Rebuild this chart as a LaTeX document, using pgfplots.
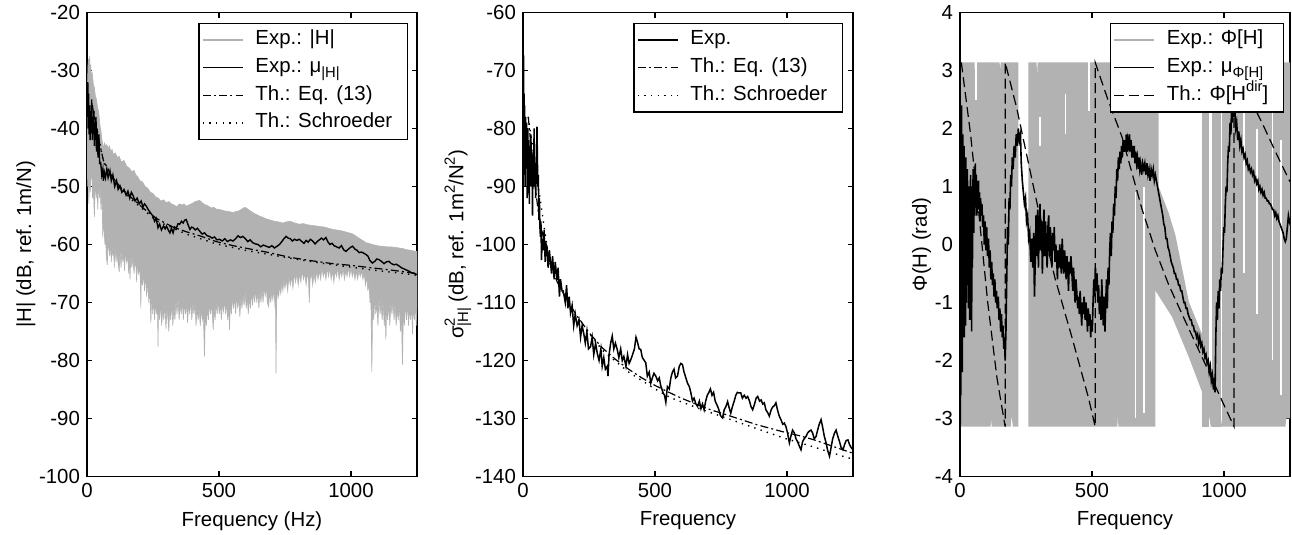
\documentclass[border=0pt]{standalone}
\usepackage{fontspec}
\setmainfont{Liberation Sans}
\usepackage{pgfplots}
\pgfplotsset{compat=1.18}
\definecolor{mygray}{gray}{0.70}
\newcommand{\sbx}[1]{\raisebox{-0.45ex}{\fontsize{7.4}{8}\selectfont #1}}
\newcommand{\spx}[1]{\raisebox{0.8ex}{\fontsize{7.4}{8}\selectfont #1}}
\tikzset{thdash/.style={black, line width=0.6pt, dash pattern=on 5pt off 2.5pt},
         thdd/.style={black, line width=0.6pt, dash pattern=on 4pt off 1.6pt on 1pt off 1.6pt},
         thdot/.style={black, line width=0.7pt, dash pattern=on 0.7pt off 2.6pt}}
\pgfplotsset{
  myaxis/.style={
    scale only axis, width=165pt, height=232pt,
    xmin=0, xmax=1250, xtick={0,500,1000},
    axis line style={line width=0.8pt},
    every tick/.style={black, line width=0.7pt},
    major tick length=2.5pt,
    tick label style={font=\fontsize{10.2}{12}\selectfont},
    label style={font=\fontsize{10.2}{12}\selectfont},
    ylabel style={yshift=-5pt},
    /pgf/number format/assume math mode=true,
    /pgf/number format/1000 sep={},
    legend cell align=left,
    legend style={at={(1,1)}, anchor=north east, draw=black, line width=0.7pt, fill=white,
      inner sep=1.5pt, column sep=4pt, font=\fontsize{10.2}{12}\selectfont,
      nodes={text height=7.3pt, text depth=2.5pt, inner sep=2pt}},
    legend image code/.code={\draw[#1] (0pt,0pt) -- (20pt,0pt);},
  }
}
\begin{document}
\begin{tikzpicture}
\useasboundingbox (0,0) rectangle (646pt,267.5pt);
% ---------------- Panel 1 ----------------
\begin{axis}[myaxis, at={(43.5pt,29.25pt)}, anchor=south west,
  ymin=-100, ymax=-20, ytick={-100,-90,...,-20},
  xlabel={Frequency (Hz)}, ylabel={|H| (dB, ref. 1m/N)},
  legend style={xshift=-4.5pt, yshift=-5pt}]
\addplot[fill=mygray, draw=mygray, line width=0.3pt, forget plot] coordinates {
(0,-46)(3,-50)(5,-47)(7,-53)(9,-48)(12,-51)(14,-49)(18,-47)(21,-52)(24,-50)(28,-55.3)(31,-49)(35,-52)(38,-50)(41,-54)(44,-48)(47,-52)(50,-50)(53,-54)(56,-50)(60,-58.8)(62,-54)
(64,-57)(68,-60)(70,-57)(73,-62)(77,-63.5)(80,-58)(83,-61)(86,-62)(89,-59)(92,-63)(95,-60)(98,-62)(101,-60)(103,-64)(106,-60)(110,-63)(113,-61)(117,-63)(122,-64.7)(125,-61)(129,-64)(132,-61)(136,-63)(139,-61)(142,-64.5)(146,-61)(150,-63)(154,-62)(158,-65)(161,-62)(163,-66)(166,-62)(170,-64)(174,-62)(178,-65)(182,-63)(186,-64)(188,-66.5)(191,-63)(195,-65)(199,-64)(202,-66)(204,-71)(206,-65)(210,-67)(214,-65)(218,-68)(222,-65)(226,-69)(230,-66)(234,-70)(237,-67)(242,-73.5)(245,-68)
(249,-72)(252,-69)(256,-73)(260,-70)(264,-72)(267,-70)(269,-77.6)(271,-70)(275,-73)(279,-70)(283,-74)(287,-71)(291,-73)(295,-70)(299,-74.5)(303,-71)(307,-73)(310,-75)(313,-71)(317,-73)(321,-70)(325,-74)(329,-71)(333,-73)(337,-69.5)(341,-72)(345,-69)(349,-73)(353,-70)(357,-72)(361,-69.5)(365,-73)(369,-70)(373,-72)(377,-70)(381,-73.5)(385,-70)(389,-72)(393,-69.5)(397,-73)(401,-70)(405,-72)(409,-70)(413,-74)(417,-71)(421,-73)(425,-71)(429,-74)(433,-71)(437,-73)(441,-72)(445,-79.3)(448,-72)(452,-74)(456,-71)(460,-73)(464,-70)(468,-72)(472,-70)(476,-73)(478,-74.7)(481,-71)(485,-73)(489,-70)(493,-72)(497,-69.5)(501,-72)(505,-70)(509,-73)(513,-70)(517,-71.5)(521,-69.5)(525,-72)(529,-70)(533,-73)(537,-71)(540,-74.7)(543,-70)(547,-72)(551,-69)(555,-71)(559,-69)(563,-72)(567,-68.5)(571,-71)(575,-69)(579,-72.5)(583,-69)(587,-71)(591,-68.5)(595,-70.5)(599,-68)(603,-71)(607,-69)(611,-72)(615,-69)(619,-71)(623,-68)(627,-70.5)(631,-68)(635,-70)(639,-67.5)(643,-70)(647,-68)(651,-71)(655,-68)(659,-70)(663,-67.5)(667,-70)(671,-67)(675,-69)(679,-67)(683,-70)(688,-70.7)(692,-68)(696,-70)(700,-68)(704,-69.5)(708,-67.5)(712,-70.5)(714,-70)(716,-82.2)(718,-70)(722,-68)(726,-69)(730,-67)(734,-68.5)(738,-66.5)
(742,-68)(746,-66)(750,-67.5)(755,-66)(760,-68)(765,-65.5)(770,-67)(775,-65.5)(780,-67.5)(785,-65)(790,-66.5)(795,-65)(800,-67)(805,-65)(810,-66.5)(815,-64.5)(820,-66)(825,-65)(830,-67)(835,-65)(839,-66)(842,-70)(845,-66)(850,-65)(855,-67)(860,-65)(865,-66.5)(870,-64.5)(875,-66)(880,-64.5)(885,-66)(890,-64)(895,-65.5)(900,-64.5)(905,-66)(910,-64)(915,-65.5)(920,-64)(925,-66)(930,-64.5)(935,-66.5)(940,-64.5)(945,-65.5)(950,-64)(955,-66)(960,-64.5)(965,-65.5)(970,-64)(975,-66)(980,-64.5)(985,-65.5)(990,-64)(995,-65.5)(1000,-64)(1005,-65.5)(1010,-64.5)(1015,-66)(1020,-64.5)(1025,-66)(1030,-64.5)(1035,-65.5)(1040,-64.5)(1045,-66)(1050,-65)(1055,-67)(1060,-65.5)
(1064,-68)(1068,-66.5)(1072,-70)(1075,-68)(1079,-82)(1082,-70)(1086,-73)(1090,-69)(1094,-72)(1098,-70)(1102,-74)(1106,-69)(1110,-72)(1114,-70)(1118,-73)(1122,-70)(1126,-74)(1129,-71)(1132,-76.4)(1135,-71)(1139,-73)(1143,-70)(1147,-74)(1151,-70)(1155,-72)(1159,-69.5)(1163,-73)(1167,-70)(1171,-74)(1175,-71)(1179,-73)(1183,-70)(1187,-75)(1191,-72)(1195,-80.7)(1198,-72)(1202,-74)(1206,-70)(1210,-73)(1214,-70)(1218,-74)(1222,-71)(1226,-73)(1230,-70)(1233,-75.5)(1236,-70)(1240,-73)(1244,-70)(1247,-74)(1250,-71)
(1250,-61.2)(1245,-61.2)(1228,-61)(1210,-60.9)(1196,-60.7)(1182,-60.6)(1166,-60.5)(1150,-60.4)(1135,-60.4)(1119,-60.3)(1110,-60.3)(1100,-60.2)(1090,-60.1)(1080,-60)(1068,-59.8)(1056,-59.7)(1048,-59.4)(1040,-59.2)(1030,-58.9)(1020,-58.6)(1007,-58.2)(993,-58)(977,-57.8)(960,-57.6)(945,-57.5)(930,-57.4)(915,-57.2)(900,-57)(883,-56.9)(867,-56.8)(850,-56.7)(835,-56.6)(820,-56.4)(804,-56.5)(787,-56.3)(770,-56)(755,-56.1)(741,-56.3)(725,-56.1)(710,-56)(695,-55.8)(680,-55.6)(665,-55.3)(653,-55.1)(645,-54.9)(635,-54.7)(625,-54.4)(615,-54.1)(609,-53.9)(603,-53.7)(597,-53.6)(590,-53.8)(583,-54)(575,-54.2)(565,-54.3)(553,-54.5)(535,-54.3)(520,-54.2)(505,-54)(490,-53.9)(480,-53.6)(470,-53.7)(457,-53.3)(445,-53.1)(436,-52.8)(427,-52.4)(418,-52.5)(410,-52.6)(403,-52.8)(395,-53)(385,-53.2)(376,-53.4)(368,-53)(360,-53.2)(350,-53)(340,-53.5)(330,-53.2)(320,-53)(310,-52.6)(300,-52.8)(290,-52.3)(280,-52.5)(270,-52)(260,-51.8)(250,-51.2)(240,-51)(230,-50.3)(220,-50)(210,-49.2)(200,-49)(192,-48.3)(185,-48)(178,-47.2)(170,-47.5)(160,-46.8)(150,-46.5)(140,-45.5)(130,-45.8)(122,-44.8)(115,-45)(107,-44.2)(100,-44.5)(95,-43.6)(90,-44)(85,-43)(80,-43.5)(75,-42.8)(70,-43)(66,-42.5)(62,-43.5)(57,-42)(53,-40.5)(49,-39.4)(44,-37)(40,-36.5)(36,-35)(32,-34.5)(28,-33)(24,-32.4)(20,-30.5)(17,-31)(14,-29)(12,-30)(10,-27.5)(8,-30)(6,-28)(4,-29)(2,-32)(0,-40)} -- cycle;
\addplot[thdd, forget plot] coordinates {
(20,-36)(40,-41)(62,-45.5)(90,-48)(130,-50.3)(175,-52.2)(220,-54)(263,-55.5)(326,-57)(376,-57.8)(427,-58.5)(490,-59.5)(553,-60.2)(620,-60.8)(679,-61.3)(767,-62.2)(850,-62.8)(930,-63.3)(1000,-63.6)(1056,-63.9)(1150,-64.4)(1250,-65)};
\addplot[thdot, forget plot] coordinates {
(20,-36)(62,-45.7)(120,-50)(175,-52.5)(263,-55.9)(376,-58.2)(490,-59.9)(600,-61)(700,-61.8)(800,-62.6)(900,-63.3)(1000,-63.9)(1100,-64.5)(1200,-65)(1250,-65.3)};
\addplot[black, line width=0.7pt, forget plot] coordinates {
(2,-38)(3,-32)(4,-40)(6,-34)(8,-41)(10,-36)(12,-42)(14,-37)(16,-39)(18,-35)(20,-42)(22,-38)(24,-41)(26,-37)(28,-43)(30,-39)(32,-42)(34,-38)(36,-44)(38,-40)(40,-43)(42,-45)(45,-41)(48,-46)(52,-45.9)(56,-48)(60,-47)(62,-49)(66,-47.6)(70,-48.5)(75,-47)(80,-48.5)(87,-47.3)(92,-49)(98,-48)(105,-50)(112,-49)(118,-50.5)(125,-49.9)(132,-51)(140,-50.5)(148,-51.5)(155,-50.8)(162,-52)(168,-51)(175,-51.6)(182,-52.5)(190,-52)(198,-53)(205,-52.5)(212,-53.5)(218,-53)(225,-53.4)(232,-54)(240,-54.5)(250,-55.1)(256,-56)(262,-55.5)(269,-57.1)(275,-56.5)(282,-57.5)(290,-56.8)(296,-57.3)(301,-56.8)(308,-57.5)(314,-58)(320,-57.2)(326,-58)(332,-57)(338,-57.2)(345,-56.4)(351,-56.5)(358,-56)(364,-56.3)(370,-55.8)(376,-55.7)(382,-56.5)(390,-57.4)(396,-57)(402,-57.1)(410,-57.5)(418,-57.2)(427,-57.7)(436,-58.2)(445,-58)(455,-58.5)(464,-58.6)(474,-58.9)(483,-58.7)(492,-59.2)(502,-59.1)(512,-59.4)(522,-59)(532,-59.5)(543,-59.2)(553,-59.4)(563,-59)(572,-58.5)(581,-58.8)(590,-58.6)(600,-59)(609,-59.5)(618,-59.2)(628,-59.7)(638,-59.9)(648,-60)(658,-60.4)(668,-60.1)(679,-60.3)(690,-60.5)(700,-60.2)(710,-60.6)(720,-60.3)(729,-60)(738,-59.5)(746,-59)(754,-58.6)(762,-58.9)(770,-59)(778,-59.4)(786,-59.1)(795,-59.3)(804,-59.1)(814,-59.5)(822,-59.8)(830,-59.3)(838,-59.6)(846,-59.1)(855,-59.4)(864,-59.9)(872,-59.5)(880,-59.2)(888,-58.9)(896,-59.2)(905,-58.8)(912,-59.5)(920,-60)(928,-59.8)(936,-60.2)(945,-60.4)(955,-60.6)(964,-60.2)(972,-60.9)(981,-61.2)(990,-60.8)(998,-60.5)(1006,-60.3)(1015,-60.8)(1023,-61)(1031,-61.4)(1040,-61.3)(1048,-61.5)(1056,-61.7)(1064,-62)(1072,-62.8)(1081,-63.2)(1090,-62.9)(1098,-62.5)(1106,-62.6)(1115,-62.9)(1125,-63.3)(1134,-63)(1144,-62.9)(1153,-63.3)(1163,-63.5)(1172,-63.4)(1182,-63.7)(1191,-64)(1200,-64.2)(1210,-64.4)(1220,-64.6)(1230,-64.9)(1240,-65)(1250,-65.2)};
\addlegendimage{mygray, line width=0.6pt}
\addlegendentry{Exp.: |H|}
\addlegendimage{black, line width=0.7pt}
\addlegendentry{Exp.: μ\sbx{|H|}}
\addlegendimage{thdd}
\addlegendentry{Th.: Eq. (13)}
\addlegendimage{thdot}
\addlegendentry{Th.: Schroeder\rule{4pt}{0pt}}
\end{axis}
% ---------------- Panel 2 ----------------
\begin{axis}[myaxis, at={(261.5pt,29.25pt)}, anchor=south west,
  ymin=-140, ymax=-60, ytick={-140,-130,...,-60},
  xlabel={Frequency}, ylabel={σ\rlap{\spx{2}}\sbx{|H|} (dB, ref. 1m\spx{2}/N\spx{2})},
  legend style={xshift=-5pt, yshift=-5pt}]
\addplot[thdd, forget plot] coordinates {
(20,-78)(40,-88)(60,-95)(80,-99.5)(100,-103)(130,-106.5)(160,-109)(200,-112)(250,-115.2)(300,-117.8)(350,-119.8)(400,-121.5)(450,-123)(500,-124.3)(558,-125.6)(600,-126.5)(698,-128.3)(800,-129.8)(888,-131.1)(977,-132.2)(1050,-133)(1104,-133.7)(1180,-134.9)(1250,-136)};
\addplot[thdot, forget plot] coordinates {
(20,-78)(100,-103.2)(200,-112.3)(300,-118.2)(400,-122)(500,-124.9)(558,-126.4)(650,-128)(737,-129.4)(876,-131.6)(990,-133.4)(1079,-134.6)(1218,-136.6)(1250,-137)};
\addplot[black, line width=0.75pt, forget plot] coordinates {
(1,-86)(2,-67.4)(3,-85)(4,-74)(5,-88)(6,-76)(8,-90)(10,-78)(12,-85)(14,-79)(16,-92)(18,-80)(20,-87)(22,-82)(24,-93)(26,-83)(28,-88)(30,-81)(32,-90)(34,-84)(36,-95)(38,-85)(40,-90)(42,-80)(44,-89)(46,-86)(48,-92)(50,-88)(53,-79.7)(56,-90)(58,-88)(60,-95.8)(62,-92)(64,-97)(66,-98.7)(68,-96)(70,-102.7)(73,-99)(76,-101)(80,-97.5)(84,-103)(88,-100)(91,-100.4)(95,-104)(100,-101)(104,-103)(108,-105)(112,-102)(118,-106)(122,-103)(129,-106)(133,-104)(138,-109)(142,-106)(148,-108)(154,-108.4)(160,-110)(165,-107)(170,-111)(175,-109)(180,-111.8)(186,-110.5)(192,-114)(198,-112)(205,-114)(212,-113)(218,-116)(224,-114)(230,-115.3)(236,-117)(242,-115)(248,-118)(256,-117.6)(262,-116)(268,-119)(275,-117)(281,-118.7)(288,-120)(295,-118)(300,-121)(306,-119.5)(312,-121.5)(319,-121)(322,-122.7)(326,-119)(332,-117)(338,-115.8)(344,-118)(350,-117)(357,-118.1)(363,-119.5)(370,-118)(376,-120)(382,-119.3)(390,-121)(396,-119)(402,-120.5)(408,-119.9)(415,-119)(422,-118)(428,-116)(433,-116.7)(440,-118)(446,-118.1)(452,-119.5)(458,-119.9)(465,-120.4)(471,-122.7)(478,-122)(484,-123.9)(490,-123)(496,-122.2)(503,-122.7)(510,-123.5)(516,-123)(522,-124.4)(530,-125.5)(536,-126)(541,-127.2)(547,-124.5)(554,-124.9)(560,-123)(566,-122)(572,-121.5)(578,-123)(585,-122.7)(592,-121)(598,-120.5)(604,-120.7)(610,-122)(617,-123)(623,-123.9)(630,-124.5)(636,-125.6)(642,-127)(648,-126.5)(655,-127.5)(661,-127.9)(668,-127)(674,-128.3)(680,-127.5)(686,-128.5)(692,-127)(698,-126)(704,-125.5)(710,-124.9)(716,-126)(722,-125.5)(728,-127)(737,-127.9)(742,-128.5)(748,-129.5)(756,-129.9)(762,-128.5)(768,-128)(775,-127.1)(780,-128)(787,-129.1)(793,-128)(800,-127)(806,-126)(812,-125.5)(818,-125.6)(825,-125.6)(831,-126.5)(838,-126)(845,-126.5)(851,-126.2)(858,-127)(864,-128)(870,-128.5)(877,-127.5)(883,-126.5)(889,-126.2)(896,-127)(902,-126.8)(908,-127.5)(914,-127.3)(920,-128.5)(927,-129)(933,-129.6)(940,-128.5)(946,-128)(952,-127.8)(958,-127.3)(964,-128.5)(970,-129.5)(977,-130.2)(984,-131)(990,-130.8)(996,-131.4)(1002,-132.5)(1009,-134.2)(1015,-133)(1021,-132)(1028,-132.5)(1034,-133.5)(1040,-134)(1047,-134.8)(1053,-135.4)(1059,-134)(1065,-133.5)(1072,-133.1)(1078,-132.5)(1084,-132.2)(1091,-132)(1097,-132.5)(1103,-133.5)(1110,-133.1)(1116,-132)(1122,-131)(1129,-130.2)(1135,-131.5)(1141,-133)(1148,-134.2)(1154,-135.5)(1161,-136.5)(1167,-135)(1173,-133.5)(1180,-132.5)(1186,-132)(1192,-133)(1199,-134)(1205,-135)(1212,-135.4)(1218,-134.5)(1224,-133.8)(1231,-133.7)(1237,-134.5)(1243,-135)(1250,-135.4)};
\addlegendimage{black, line width=0.7pt}
\addlegendentry{Exp.}
\addlegendimage{thdd}
\addlegendentry{Th.: Eq. (13)}
\addlegendimage{thdot}
\addlegendentry{Th.: Schroeder\rule{4pt}{0pt}}
\end{axis}
% ---------------- Panel 3 ----------------
\begin{axis}[myaxis, at={(480pt,29.25pt)}, anchor=south west,
  ymin=-4, ymax=4, ytick={-4,-3,...,4},
  xlabel={Frequency}, ylabel={Φ(H) (rad)},
  legend style={xshift=-3pt, yshift=-5pt}]
\addplot[fill=mygray, draw=none, forget plot] coordinates {
(4,-3.14)(4,3.14)(55,3.14)(56,2.95)(58,3.14)(150,3.14)(152,3.0)(154,3.14)(221,3.14)(221,-3.14)(200,-3.14)(196,-2.95)(192,-3.14)(120,-3.14)(118,-3.0)(116,-3.14)} -- cycle;
\addplot[fill=mygray, draw=none, forget plot] coordinates {
(259,-3.14)(259,3.14)(290,3.14)(292,2.9)(294,3.14)(752,3.14)(752,1.0)(790,0.55)(816,0.16)(867,-0.99)(918,-1.56)(968,-2.42)(993,-3.14)(600,-3.14)(598,-2.95)(596,-3.14)} -- cycle;
\addplot[fill=white, draw=none, forget plot] coordinates {
(740,-3.16)(740,-0.8)(803,-1.25)(867,-1.95)(917,-2.55)(945,-3.0)(950,-3.16)} -- cycle;
\addplot[fill=mygray, draw=none, forget plot] coordinates {(918,-3.14)(918,3.14)(943,3.14)(943,-3.14)} -- cycle;
\addplot[fill=mygray, draw=none, forget plot] coordinates {(955,-3.14)(955,3.14)(987,3.14)(987,-3.14)} -- cycle;
\addplot[fill=mygray, draw=none, forget plot] coordinates {(993,-3.14)(993,3.14)(1250,3.14)(1250,-3.0)(1235,-3.0)(1233,-3.14)} -- cycle;
\addplot[white, line width=0.8pt, forget plot] coordinates {(60,3.2)(60,2.5)};
\addplot[white, line width=0.8pt, forget plot] coordinates {(304,2.2)(304,1.7)};
\addplot[white, line width=0.8pt, forget plot] coordinates {(399,2.6)(399,1.9)};
\addplot[white, line width=1.2pt, forget plot] coordinates {(488,3.2)(488,2.3)};
\addplot[white, line width=0.8pt, forget plot] coordinates {(664,0.9)(664,-3.0)};
\addplot[white, line width=0.8pt, forget plot] coordinates {(696,1.0)(696,-2.9)};
\addplot[white, line width=0.8pt, forget plot] coordinates {(1076,2.4)(1076,-0.5)};
\addplot[white, line width=0.8pt, forget plot] coordinates {(1126,2.0)(1126,-1.2)};
\addplot[white, line width=0.8pt, forget plot] coordinates {(1183,2.9)(1183,-2.0)};
\addplot[white, line width=0.8pt, forget plot] coordinates {(1215,1.8)(1215,-2.6)};
\addplot[thdash, forget plot] coordinates {
(5,3.14)(40,1.9)(70,0.6)(105,-1.0)(140,-2.3)(171,-3.14)(171,3.14)(215,2.35)(250,1.6)(297,0.6)(361,-0.6)(424,-1.6)(487,-2.65)(512,-3.14)(512,3.14)(560,2.5)(614,1.85)(690,0.6)(740,-0.1)(791,-0.7)(841,-1.2)(892,-1.7)(943,-2.2)(993,-2.7)(1038,-3.14)(1038,3.14)(1100,2.5)(1145,2.09)(1200,1.55)(1250,1.08)};
\addplot[black, line width=0.8pt, forget plot] coordinates {
(0,3.1)(1,-3.1)(2,2.0)(3,-2.6)(4,1.3)(5,-1.9)(6,2.4)(7,-0.6)(8,1.6)(9,-2.2)(10,0.5)(11,1.9)(12,-1.2)(13,0.9)(14,-0.3)(15,1.7)(16,-1.6)(17,0.4)(18,1.3)(19,-0.8)(20,0.7)(21,-1.4)(22,1.5)(23,0.0)(24,-1.0)(25,1.1)(26,0.2)(27,-0.7)(28,1.3)(29,0.3)(30,-0.5)(31,0.9)(32,-1.1)(33,0.6)(34,1.0)(35,-0.3)(36,0.4)(37,-1.3)(38,0.8)(39,-0.2)(40,1.2)(41,0.1)(42,-0.9)(43,0.5)(44,-1.5)(45,0.2)(46,1.0)(47,-0.4)(48,0.7)(50,1.3)(52,0.2)(54,1.1)(56,0.5)(58,1.4)(60,0.7)(62,1.2)(64,0.5)(66,1.0)(68,0.6)(70,1.1)(72,0.6)(74,0.9)(76,0.4)(78,0.8)(80,0.5)(83,0.7)(86,0.3)(89,0.5)(92,0.0)(95,0.4)(98,-0.1)(101,0.3)(104,-0.2)(108,0.1)(111,-0.4)(114,-0.1)(117,-0.6)(120,-0.3)(123,-0.7)(126,-0.5)(129,-0.9)(132,-0.6)(135,-1.0)(138,-0.8)(141,-1.1)(145,-0.9)(148,-1.3)(151,-1.1)(154,-1.5)(157,-1.2)(160,-1.6)(163,-1.4)(166,-1.8)(169,-1.6)(171,-2.0)(174,-1.5)(177,-0.6)(180,0.3)(183,0.0)(186,0.8)(189,0.6)(192,1.2)(195,1.0)(198,1.5)(201,1.3)(205,1.7)(209,1.5)(213,1.9)(217,1.7)(221,2.0)(225,1.8)(229,1.9)(232,1.4)(236,1.1)(240,0.9)(244,0.7)(248,0.8)(252,0.4)(256,0.5)(260,0.1)(264,0.2)(268,-0.3)(272,0.1)(276,-0.4)(279,0.2)(282,-0.9)(285,-0.3)(288,0.5)(291,-0.2)(294,0.6)(297,-0.4)(300,0.3)(303,0.7)(306,-0.1)(309,0.4)(312,-0.5)(315,0.2)(318,0.6)(321,-0.2)(324,0.4)(327,0.0)(330,-0.4)(333,0.3)(336,0.5)(339,-0.2)(342,0.3)(345,0.0)(348,-0.4)(351,0.2)(354,-0.1)(357,0.3)(360,-0.3)(363,0.0)(366,-0.2)(369,-0.6)(372,-0.1)(375,-0.4)(378,0.0)(381,-0.3)(384,-0.5)(387,0.1)(390,-0.2)(393,-0.5)(396,-0.1)(399,-0.3)(402,-0.6)(405,-0.2)(408,-0.4)(411,-0.8)(414,-0.3)(417,-0.5)(420,-0.2)(424,-0.5)(427,-0.8)(430,-0.4)(433,-0.7)(436,-1.0)(439,-0.6)(442,-0.8)(446,-1.1)(449,-0.9)(452,-1.2)(455,-0.8)(458,-1.1)(461,-1.4)(464,-1.0)(467,-1.2)(470,-0.9)(474,-1.3)(477,-1.0)(480,-1.2)(483,-1.5)(486,-1.1)(489,-1.4)(492,-1.2)(495,-1.6)(498,-1.3)(501,-1.5)(504,-1.0)(507,-0.6)(510,-0.9)(513,-0.4)(516,-0.8)(519,-0.5)(522,-1.0)(525,-0.7)(528,-1.2)(531,-0.9)(534,-1.3)(537,-0.6)(540,-1.1)(543,-1.4)(546,-0.9)(549,-1.5)(552,-1.0)(555,-0.6)(558,-1.1)(561,-0.4)(564,-0.7)(567,-0.1)(570,0.2)(573,-0.2)(576,0.4)(579,0.2)(582,0.7)(585,0.5)(588,1.0)(591,0.8)(594,1.3)(597,1.1)(600,1.5)(603,1.3)(606,1.6)(609,1.4)(612,1.7)(615,1.5)(618,1.8)(621,1.6)(624,1.8)(627,1.6)(630,1.9)(633,1.6)(636,1.8)(639,1.7)(642,1.9)(645,1.6)(648,1.8)(651,1.5)(654,1.7)(657,1.5)(660,1.7)(663,1.4)(666,1.6)(669,1.4)(672,1.5)(675,1.3)(678,1.5)(681,1.3)(684,1.4)(688,1.2)(692,1.4)(696,1.3)(700,1.4)(704,1.2)(708,1.4)(712,1.2)(716,1.3)(720,1.1)(724,1.3)(728,1.2)(732,1.3)(736,1.1)(740,1.2)(744,1.1)(748,1.0)(752,0.9)(756,0.8)(760,0.7)(764,0.6)(768,0.5)(772,0.35)(776,0.3)(780,0.1)(784,0.1)(788,-0.05)(792,-0.1)(796,-0.2)(800,-0.3)(804,-0.35)(808,-0.4)(812,-0.5)(816,-0.5)(820,-0.6)(824,-0.6)(828,-0.7)(832,-0.7)(836,-0.8)(840,-0.8)(844,-0.9)(848,-1.0)(852,-1.0)(856,-1.1)(860,-1.1)(864,-1.2)(868,-1.25)(872,-1.3)(876,-1.3)(880,-1.4)(884,-1.4)(888,-1.5)(892,-1.5)(896,-1.6)(900,-1.55)(904,-1.7)(908,-1.6)(912,-1.75)(916,-1.7)(920,-1.85)(924,-1.8)(928,-1.95)(932,-1.9)(936,-2.05)(940,-2.0)(944,-2.2)(948,-2.1)(952,-2.35)(956,-2.25)(960,-2.5)(963,-2.3)(966,-2.55)(969,-1.6)(972,-1.0)(975,-1.3)(978,-0.8)(981,-1.1)(984,-0.6)(987,-0.8)(990,-0.4)(993,-0.5)(996,-0.1)(999,0.3)(1002,0.2)(1005,0.7)(1008,1.0)(1011,0.9)(1014,1.4)(1017,1.7)(1020,1.6)(1023,2.1)(1026,1.9)(1029,2.4)(1032,2.1)(1035,2.5)(1038,2.2)(1041,2.4)(1044,2.0)(1048,2.1)(1052,1.8)(1056,1.95)(1060,1.7)(1064,1.8)(1068,1.6)(1072,1.65)(1076,1.5)(1080,1.55)(1084,1.4)(1088,1.45)(1092,1.3)(1096,1.35)(1100,1.25)(1104,1.3)(1108,1.2)(1112,1.25)(1116,1.1)(1120,1.15)(1124,1.05)(1128,1.1)(1132,0.95)(1136,1.0)(1140,0.9)(1144,0.95)(1148,0.85)(1152,0.9)(1156,0.8)(1160,0.8)(1164,0.75)(1168,0.75)(1172,0.7)(1176,0.7)(1180,0.65)(1184,0.6)(1188,0.6)(1192,0.5)(1196,0.55)(1200,0.45)(1204,0.5)(1208,0.4)(1212,0.35)(1216,0.3)(1220,0.25)(1224,0.2)(1228,0.1)(1232,0.05)(1236,0.1)(1240,0.3)(1244,0.5)(1248,0.4)(1250,0.45)};
\addlegendimage{mygray, line width=0.6pt}
\addlegendentry{Exp.: Φ[H]}
\addlegendimage{black, line width=0.7pt}
\addlegendentry{Exp.: μ\sbx{Φ[H]}}
\addlegendimage{thdash}
\addlegendentry{Th.: Φ[H\spx{dir}]\rule{4pt}{0pt}}
\end{axis}
\end{tikzpicture}
\end{document}
